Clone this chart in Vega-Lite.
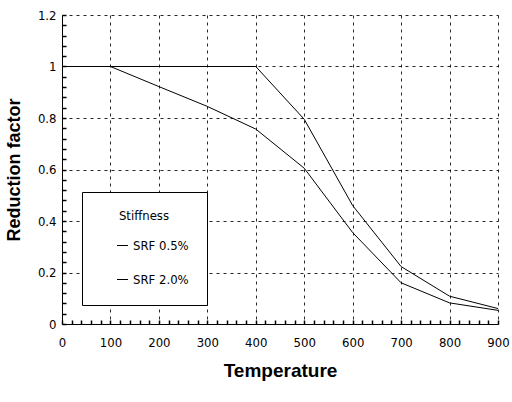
{
  "$schema": "https://vega.github.io/schema/vega-lite/v6.json",
  "width": 436,
  "height": 309,
  "autosize": "none",
  "padding": {"left": 62, "top": 15, "right": 14, "bottom": 78},
  "background": "white",
  "config": {
    "view": {"stroke": null}
  },
  "data": {
    "values": [
      {"T": 0, "R": 1, "s": "SRF 0.5%"},
      {"T": 100, "R": 1, "s": "SRF 0.5%"},
      {"T": 200, "R": 1, "s": "SRF 0.5%"},
      {"T": 300, "R": 1, "s": "SRF 0.5%"},
      {"T": 400, "R": 1, "s": "SRF 0.5%"},
      {"T": 500, "R": 0.795, "s": "SRF 0.5%"},
      {"T": 600, "R": 0.46, "s": "SRF 0.5%"},
      {"T": 700, "R": 0.223, "s": "SRF 0.5%"},
      {"T": 800, "R": 0.108, "s": "SRF 0.5%"},
      {"T": 900, "R": 0.06, "s": "SRF 0.5%"},
      {"T": 0, "R": 1, "s": "SRF 2.0%"},
      {"T": 100, "R": 1, "s": "SRF 2.0%"},
      {"T": 200, "R": 0.922, "s": "SRF 2.0%"},
      {"T": 300, "R": 0.845, "s": "SRF 2.0%"},
      {"T": 400, "R": 0.757, "s": "SRF 2.0%"},
      {"T": 500, "R": 0.605, "s": "SRF 2.0%"},
      {"T": 600, "R": 0.355, "s": "SRF 2.0%"},
      {"T": 700, "R": 0.16, "s": "SRF 2.0%"},
      {"T": 800, "R": 0.082, "s": "SRF 2.0%"},
      {"T": 900, "R": 0.053, "s": "SRF 2.0%"}
    ]
  },
  "mark": {"type": "line", "strokeWidth": 1},
  "encoding": {
    "x": {"field": "T", "type": "quantitative", "scale": {"domain": [0, 900], "nice": false},
      "axis": {"orient": "bottom",
        "values": [0,20,40,60,80,100,120,140,160,180,200,220,240,260,280,300,320,340,360,380,400,420,440,460,480,500,520,540,560,580,600,620,640,660,680,700,720,740,760,780,800,820,840,860,880,900],
        "labelExpr": "datum.value % 100 === 0 ? datum.label : ''",
        "labelFont": "DejaVu Sans Condensed", "labelFontSize": 13, "labelColor": "black",
        "domainColor": "black", "tickColor": "black", "tickWidth": 1.5, "tickSize": -4,
        "grid": true, "gridColor": "black", "gridDash": [3, 4],
        "gridOpacity": {"condition": {"test": "datum.value % 100 === 0 && datum.value > 0", "value": 0.85}, "value": 0},
        "labelPadding": 16, "labelFlush": false,
        "title": "Temperature", "titleColor": "black", "titleFont": "Liberation Sans", "titleFontSize": 19, "titleFontWeight": "bold", "titlePadding": 12}},
    "y": {"field": "R", "type": "quantitative", "scale": {"domain": [0, 1.2], "nice": false},
      "axis": {"orient": "left",
        "values": [0,0.04,0.08,0.12,0.16,0.2,0.24,0.28,0.32,0.36,0.4,0.44,0.48,0.52,0.56,0.6,0.64,0.68,0.72,0.76,0.8,0.84,0.88,0.92,0.96,1,1.04,1.08,1.12,1.16,1.2],
        "labelExpr": "abs(datum.value*5 - round(datum.value*5)) < 0.001 ? format(datum.value, '~g') : ''",
        "labelFont": "DejaVu Sans Condensed", "labelFontSize": 13, "labelColor": "black",
        "domainColor": "black", "tickColor": "black", "tickWidth": 1.5, "tickSize": -4,
        "grid": true, "gridColor": "black", "gridDash": [3, 4],
        "gridOpacity": {"condition": {"test": "abs(datum.value*5 - round(datum.value*5)) < 0.001 && datum.value > 0", "value": 0.85}, "value": 0},
        "labelPadding": 10,
        "title": "Reduction factor", "titleColor": "black", "titleFont": "Liberation Sans", "titleFontSize": 18, "titleFontWeight": "bold", "titlePadding": 14}},
    "color": {"field": "s", "type": "nominal", "scale": {"range": ["black", "black"]},
      "legend": {"orient": "none", "legendX": 20, "legendY": 177, "title": "Stiffness", "titleFont": "DejaVu Sans Condensed", "titleFontWeight": "normal", "titleFontSize": 13, "titleAnchor": "middle", "titlePadding": 16, "labelFont": "DejaVu Sans Condensed", "labelFontSize": 13, "labelColor": "black", "titleColor": "black", "symbolType": "stroke", "symbolSize": 120, "symbolStrokeWidth": 1, "symbolOffset": 16, "labelOffset": 4, "rowPadding": 20, "padding": 18, "strokeColor": "black", "fillColor": "white"}}
  }
}
